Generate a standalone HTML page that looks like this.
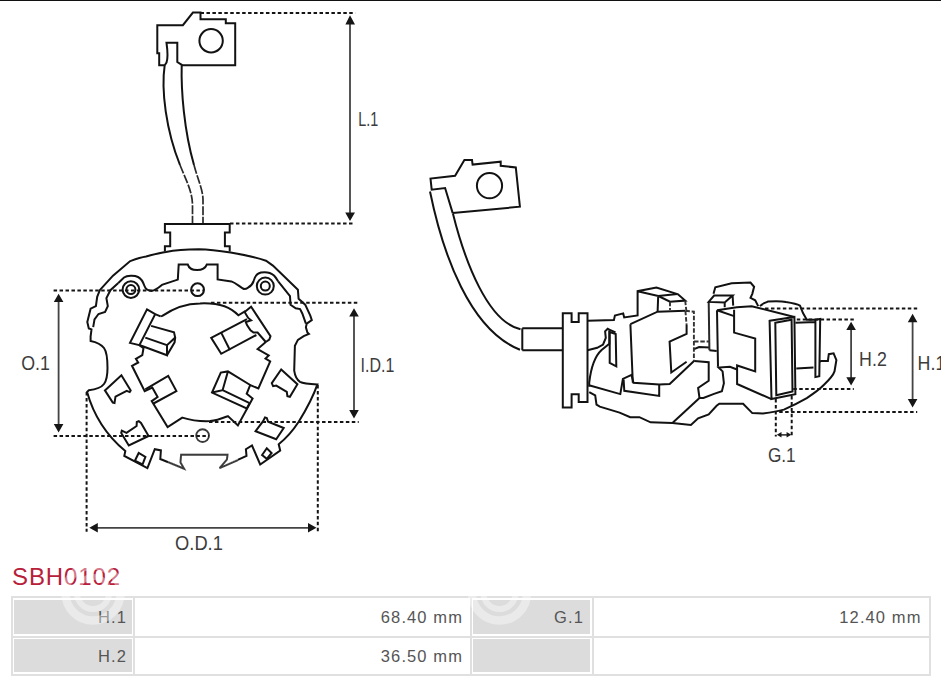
<!DOCTYPE html>
<html><head><meta charset="utf-8">
<style>
html,body{margin:0;padding:0;background:#fff;}
body{width:941px;height:681px;position:relative;overflow:hidden;font-family:"Liberation Sans",sans-serif;}
#topbar{position:absolute;left:0;top:0;width:941px;height:1.4px;background:#111;}
svg{position:absolute;left:0;top:0;}
.s{fill:none;stroke:#121212;stroke-width:2;stroke-linejoin:miter;stroke-linecap:butt;}
.d{fill:none;stroke:#141414;stroke-width:2;stroke-dasharray:3.5 2.45;}
.a{fill:#161616;stroke:none;}
.dl{fill:none;stroke:#444;stroke-width:1.8;}
.lab{font-family:"Liberation Sans",sans-serif;font-size:20px;fill:#3c3c3c;}
#title{position:absolute;left:12px;top:563px;font-size:24px;color:#b8203a;letter-spacing:0.9px;line-height:28px;}
.hl{position:absolute;height:2px;background:#e0e0e0;}
.vl{position:absolute;width:2px;background:#e0e0e0;}
.gc{position:absolute;background:#dcdcdc;}
.t{position:absolute;font-size:16.5px;color:#555;line-height:18px;text-align:right;letter-spacing:1.1px;}
</style></head><body>
<div id="topbar"></div>
<svg width="941" height="681" viewBox="0 0 941 681">
<!-- LEFT DRAWING -->
<g class="s">
<path d="M164.7,65.2 L159.2,65.2 L159.2,53.2 L157.3,53.2 L157.3,25.2 L182.9,25.2 L192.9,12.6 L200.5,12.6 L200.5,19.3 L225.8,19.3 L225.8,23.2 L235.2,23.2 L235.2,65.2 L182.3,65.2 L177.3,62 L177.3,42.8 L166.5,42.8 C167.5,50 168.5,57 166.5,62.6 L164.7,65.2"/>
<circle cx="211.1" cy="40.8" r="11.7"/>
<path d="M164.7,65.2 C161,90 166,130 180,165 M181.7,65.2 C181,90 184,130 194,165"/>
<path style="stroke:#2a2a2a;stroke-dasharray:9 1.6;stroke-width:1.7" d="M180,165 C186,180 192.5,192 192.5,205 L192.5,223.6 M194,165 C198,180 203,190 203,200 L203,223.6"/>
<path d="M164.9,251.5 V246.3 H170.2 V232.5 H164.9 V224 H229.7 V232.5 H224.9 V246.3 H229.7 V251.5"/>
<path d="M99.8,290.2 L113,275.7 L130.2,261.1 C136,259 140,257.5 146.1,256.5 C152,255 158,253 165.9,251.9 C177,250 188,249.5 198.9,249.3 C215,249.5 245,254 266,260.7 L272.9,265.6 L297.9,289.7 L298.6,298.8 L305.2,304.7 L310.3,315.7 L311.8,320.1 L306.7,323.7 L305.9,327.4 L307.4,332.5 L308.9,334 L303.7,336.2 L297.9,339.9 L294.9,345.7 L294.2,370.7 C295,376 297,380 300,381.8 C303,383.5 308,384 317.4,384.4 C312,400 306,410 298.7,421.8 C294,429 289,436 278.7,444.3 L280.2,450.5 L260.2,464.5 L252,445.5 L245.9,449.2 L246.5,455.9 L219.6,468.1 L226.9,459.6 L227.5,454.7 L181.1,454.7 L180.5,462.6 L184.1,468.7 L160.3,459 L160.9,450.4 L154.8,449.2 L147.4,468.1 L124.3,455.9 L125.3,451.1 A118,118 0 0 1 87.1,392 L88.8,390.3 C96,389.5 101,388 104,384 C107,380 107.5,375 107.5,368 C107.5,360 107,352 104,348 C101,344 96,342 90.6,340.9 L90.6,336.5 L91.5,329.4 L88.8,328.5 L87.3,321.9 L90.6,308.7 L95.9,306.1 L97.2,296.8 Z"/>
<path d="M93.2,327.2 L94.5,319.3 L98.5,314 L105.1,312 L107.8,306.1 L106.4,298.1 L110.4,290.2 L118.3,282.9"/>
<path d="M278.2,281.4 L290,296.1 L290.5,304.7 L295.7,308.3 L300.1,309.1 L302.3,313.5 L305.9,323.7"/>
<path d="M118.3,282.9 L124,277.5 C127,275.5 134,275 138,277 C142,279 143.5,283 144.5,286 C145.5,289 147,290.6 151.4,290.9 C154,290.5 157,289 161.9,284.9 L177.8,279.6 L178.7,264.4 L187.7,264.4 C190,272 204,272 206.9,264.4 L217.6,264.4 L217.6,279.4 L231.4,281.4 C236,283 240,287 243.9,289 C246,289 247,288.5 248,287.7 C251,286 253,283 253.5,281.4 C254.5,277 257,273.5 261,272.6 C266,271.8 271,273 274,275.5 C276,277.5 277,279.5 278.2,281.4"/>
<circle cx="130.9" cy="289.6" r="8.3"/><circle cx="130.9" cy="289.6" r="4.5"/>
<circle cx="265.3" cy="286.1" r="8.5"/><circle cx="265.3" cy="286.1" r="4.5"/>
<circle cx="197.6" cy="289.7" r="6.4"/>
<circle cx="202.6" cy="435.6" r="6.4" style="stroke:#3a3a3a;stroke-width:1.9"/>
<path d="M160.5,316.4 L162.3,315.9 C175,307 188,303.5 200,303.4 C210,303 218,304 224.5,306.3 C229,308 234,311 238.4,315.3 L245.3,311.2"/>
<path d="M147,309.4 L155.2,314.1 L139.4,345.2 L130,342.9 Z M155.2,314.1 L160.5,316.4"/>
<path d="M151.1,325.9 L174,332.3 L175.2,337.6 L167,345.2 L145.3,337.6 M167,345.2 L167,355.2 L140,345.2 M175.2,337.6 L174.6,342.3 L167,355.2"/>
<path d="M139.4,345.2 L143.5,348.2 L142.3,355.2 L135.9,358.8 L138.2,362.5 L132,365.8 L144.7,391.1 L152.3,387.6 L157.6,397 L151.7,401.1 L167.6,427 L182.3,417.6 C190,420 200,421.5 210,421.1 C217,420.5 223,418 227.9,416.1 L237.9,425.5 L252.6,398.5 L246.7,393.8 L250.2,385 L258.4,388.5 L270.2,361.5 L265.5,358.5 L268.7,355.5 L257.6,349 L265.8,342"/>
<path d="M244.6,312 L251.1,306.7 L270.5,336.1 L269.3,339.6 L265.8,342 M244.6,312 L248.2,317.9 L251.1,320.3 L245.8,322 L247,325 L250.5,330.2 L253.5,332.6 L257.6,332.6 L265.8,342"/>
<path d="M247,319.1 L211.2,337.9 L221.2,353.8 L256.4,335 M221.2,332.6 L230,350.2"/>
<path d="M145.3,389.4 L168.2,375.9 L176.4,391.1 L153.5,403.5"/>
<path d="M250.2,385 L227.9,371.4 L220.8,372.6 L212,392.6 L246.7,408.5 L249.6,403.2 M227.9,371.4 L222.6,390.2 L212,392.6 M222.6,390.2 L249.6,403.2"/>
<path d="M104.9,390.4 L121.4,375.2 L130.7,390.4 L129.7,392.1 L126.7,390.8 L115.5,396.7 L114.5,403 L112.8,402.6 Z"/>
<path d="M121.2,432.9 L121.8,430.7 L126.5,432.9 L136.6,426 L136.8,422 L138.8,421.2 L141,422.9 L148.6,436 L128.8,445.5 Z"/>
<path d="M271.8,383.1 L281.2,369.4 L297.4,384.3 L289.9,396.8 L287.4,396.2 L286.8,391.8 L276.2,385.6 L273.1,386.2 Z"/>
<path d="M255.6,431.2 L263.1,421.2 L265,417.4 L266.8,418 L268.1,421.8 L280.6,426.8 L283.7,428 L276.2,439.3 Z"/>
<path d="M134.9,460.7 L138.7,453 L145.4,456.9 L142.5,464.5 Z M262.1,455 L266.8,448.3 L271.6,453 L266.8,458.8 Z"/>
</g>
<path d="M238,460.1 L219.6,468.1 L226.9,459.6 L227.5,454.7 L181.1,454.7 L180.5,462.6 L184.1,468.7 L168,462.2" style="fill:none;stroke:#fff;stroke-width:2.8;stroke-linejoin:miter"/>
<path d="M238,460.1 L219.6,468.1 L226.9,459.6 L227.5,454.7 L181.1,454.7 L180.5,462.6 L184.1,468.7 L168,462.2" style="fill:none;stroke:#3c3c3c;stroke-width:1.9;stroke-linejoin:miter"/>
<!-- left dims -->
<g class="d">
<path d="M200.5,13 H355.3 M230,223.6 H354.7"/>
<path d="M53.6,290.5 H203 M53.6,435.9 H209"/>
<path d="M211,302.8 H358.7 M209,422 H358.7"/>
<path d="M86.6,392 V531.8 M317.8,385 V531.8"/>
</g>
<g class="dl">
<path d="M350,22 V214 M58.6,300 V426 M354,315 V412 M96,527.8 H310"/>
</g>
<g class="a">
<path d="M350,15.3 L345.4,24.4 L355,24.4 Z M350,220.9 L345.2,212.4 L355,212.4 Z"/>
<path d="M58.6,293.7 L53.8,302 L63.4,302 Z M58.6,432.6 L53.8,424 L63.4,424 Z"/>
<path d="M354,308.2 L349.2,316.5 L358.8,316.5 Z M354,418.6 L349.2,410 L358.8,410 Z"/>
<path d="M89.3,527.8 L97.8,523 L97.8,532.6 Z M316.5,527.8 L308,523 L308,532.6 Z"/>
</g>
<!-- RIGHT DRAWING -->
<g class="s">
<path d="M452.7,213.1 L519.9,206.7 L515.8,167.5 L500.7,165.8 L500.7,161.7 L472.6,164.6 L472,159.9 L464.4,159.9 L455.1,175.7 L430.5,178.6 L431.7,189.7 L445.1,188 L452.7,213.1"/>
<circle cx="489.5" cy="185.7" r="12.6"/>
<path d="M430,191.5 C443,255 470,330 520,349.8"/>
<path d="M452.9,213.5 C465,262 488,322 520.5,329.2"/>
<path d="M522.3,328.2 V350.2 M522.3,328.2 H562.8 M522.3,350.2 H562.8"/>
<path d="M562.8,313.2 H571.6 V322 H578.7 V313.2 H587.5 V402.1 H578.7 V394.2 H571.6 V407.4 H562.8 Z"/>
<path d="M587.5,320.8 L613.9,320.1 L614.9,315.5 L623.2,313.4 L624.2,317.5 L637.6,315.5 V291.2 L656.4,287.6 L677.6,294.1 L658.2,295.9 L637.6,291.2 M658.2,295.9 L657.6,311.7"/>
<path d="M659.4,296.5 L670,301.7 L685.2,300.6 L677.6,294.1"/>
<path d="M630.4,324.2 L657.6,311.7 L685.4,310.8 M686.6,325 V333.8 L669.6,341.7 L671.3,372.5 L686.6,361.7 M630.4,324.2 L632.8,382.8"/>
<path d="M589.9,385.5 L620.3,394.1 L622.9,378.9 L631.5,374.9 L633.5,382.8 L659.2,384.6 L669.7,384 L694,361"/>
<path d="M623.6,379.5 L624.3,390.8 L659.2,395.9 L659.2,384.6"/>
<path d="M587.5,350.2 L597.2,347.8 L603.1,344.5 L605.8,337.9 L605.1,331.3 L607.7,328.8 L609.8,329.8 L615.5,332.4"/>
<path d="M609.3,330.4 V343.7 L601.6,350 C595,356 591,367 589.2,382.8 V386.8"/>
<path d="M609.7,332 L615.7,334 L616.3,366.3 L609.7,363 Z"/>
<path d="M589.2,392.1 L595.2,395.4 L596.5,404.6 L599.8,406.6 L619.6,412.6 L630.2,417.2 L639.4,417.2 L650.6,422.3 L672.4,423 L690.9,425 L698.1,418.3 L708.7,414.4 L716.6,405.8 L719.3,403.8 L743.1,403.8 L752.3,413.1 L762.9,413.4 C770,412.5 777,411.5 783.9,409.6 C792,406 800,402 806.8,398.1 C813,394 819,390 824,384.8 C829,380 833,376 834.5,371.4 L836.4,360 L833.6,353.3 L828.8,354.2 L827.9,360.9 L821.2,360.9 L819.3,361.8"/>
<path d="M699.5,397.9 L672.4,423"/>
<path d="M694.2,360.9 L708.7,362.2 L708.7,380.7 L698.1,388 L699.5,397.9 L703.4,397.9 L714,393.9 L721.9,391.3 L723.9,383.3 L722.6,371.4 L718.6,367.5 L729.9,366.8 L737.1,369.5"/>
<path d="M694,349.2 L699.1,347 L709.4,347.4 M709.4,350.3 L716.7,351.1"/>
<path style="stroke:#2a2a2a" d="M708.7,301.9 L709.4,350.2"/>
<path d="M708.7,301.9 L714.1,295.5 L732.6,295.5 L724.7,302.4 Z M732.6,295.5 L733.2,305.6 M724.7,302.4 V307.2"/>
<path d="M713.5,293.8 L715.3,287.3 L731.7,283.2 L750.5,282.6 L754.1,286.8 L752.3,293.8 L750.5,297.9 L755.2,300.3 L758.2,306.1"/>
<path d="M759.9,306.1 C763,303 766,302.6 768.2,301.4 C775,301 782,301 786,302 C792,303 797,304 800,305.6 L803,313.1 L806.8,319.8 L815.4,319.8"/>
<path d="M717,310.3 L718,366.8 M717,310.3 L736.8,307.2 L751.7,306.2 L794.4,317 M717,310.3 L734.1,316.1"/>
<path d="M734.1,309.7 V332.6 L755.2,338.5 V371.4 L737.1,365.5 V384 L771.5,399.1"/>
<path d="M769.6,320.8 L794.4,317 L795.4,394.3 L771.5,399.1 Z M775.3,322.7 L791.6,319.8 L792.5,391.4 L776.3,395.3 Z"/>
<path d="M815.4,319.8 L820.2,318.9 L819.3,376.2 L815.4,377.1 Z M796.3,368.5 L813.5,367.6 M795.4,322.7 L815.4,322"/>
</g>
<g class="s" style="stroke:#333;stroke-dasharray:4.5 1.8;stroke-width:1.9">
<path d="M685.4,310.8 L693.9,311.7 V361 M685.4,310.8 L686.6,325 M694,341.5 H709.4 M670,301.7 V310 M685.2,300.6 L686.4,311.1"/>
</g>
<g class="d">
<path d="M765,308.5 H917.2 M779.2,412.1 H917.2"/>
<path d="M796.8,319.6 H853.8 M793.3,389.1 H853.8"/>
<path d="M775.8,399 V436.6 M791.7,396 V436.6"/>
</g>
<g class="dl">
<path d="M912.6,320 V401 M851.1,328 V379 M780,434.8 H788"/>
</g>
<g class="a">
<path d="M912.6,313.8 L907.8,322.3 L917.4,322.3 Z M912.6,407.6 L907.8,399.1 L917.4,399.1 Z"/>
<path d="M851.1,321.7 L846.3,330 L855.9,330 Z M851.1,385.6 L846.3,377.3 L855.9,377.3 Z"/>
<path d="M776.8,434.8 L781.5,432 L781.5,437.6 Z M791.3,434.8 L786.6,432 L786.6,437.6 Z"/>
</g>
<g class="lab">
<text x="358.2" y="125.5" textLength="20" lengthAdjust="spacingAndGlyphs">L.1</text>
<text x="21.2" y="370.3" textLength="28.7" lengthAdjust="spacingAndGlyphs">O.1</text>
<text x="360.6" y="372.1" textLength="33.8" lengthAdjust="spacingAndGlyphs">I.D.1</text>
<text x="175.1" y="549.6" textLength="47.8" lengthAdjust="spacingAndGlyphs">O.D.1</text>
<text x="859.1" y="365.8" textLength="27.7" lengthAdjust="spacingAndGlyphs">H.2</text>
<text x="917.6" y="369.8" textLength="27.7" lengthAdjust="spacingAndGlyphs">H.1</text>
<text x="767.9" y="461.7" textLength="27.8" lengthAdjust="spacingAndGlyphs">G.1</text>
</g>
</svg>
<div id="title">SBH0102</div>
<!-- table -->
<div class="gc" style="left:14px;top:600px;width:118px;height:34px;"></div>
<div class="gc" style="left:14px;top:639px;width:118px;height:33px;"></div>
<div class="gc" style="left:473px;top:600px;width:117px;height:34px;"></div>
<div class="gc" style="left:473px;top:639px;width:117px;height:33px;"></div>
<div class="hl" style="left:11px;top:596px;width:920px;"></div>
<div class="hl" style="left:11px;top:635.5px;width:920px;"></div>
<div class="hl" style="left:11px;top:673.5px;width:920px;"></div>
<div class="vl" style="left:10.5px;top:596px;height:79px;"></div>
<div class="vl" style="left:133px;top:596px;height:79px;"></div>
<div class="vl" style="left:470.3px;top:596px;height:79px;"></div>
<div class="vl" style="left:591.5px;top:596px;height:79px;"></div>
<div class="vl" style="left:928.5px;top:596px;height:79px;"></div>
<div class="t" style="right:814px;top:608px;">H.1</div>
<div class="t" style="right:814px;top:647px;">H.2</div>
<div class="t" style="right:478px;top:608px;">68.40 mm</div>
<div class="t" style="right:478px;top:647px;">36.50 mm</div>
<div class="t" style="right:357px;top:608px;">G.1</div>
<div class="t" style="right:19.5px;top:608px;">12.40 mm</div>
<svg width="941" height="681" viewBox="0 0 941 681" style="position:absolute;left:0;top:0;">
<g style="fill:none;stroke:#fff;opacity:0.4">
<circle cx="93" cy="593" r="27.5" stroke-width="8.5"/><circle cx="93" cy="593" r="16" stroke-width="6"/>
<circle cx="499.5" cy="593" r="27.5" stroke-width="8.5"/><circle cx="499.5" cy="593" r="16" stroke-width="6"/>
</g></svg>
</body></html>
